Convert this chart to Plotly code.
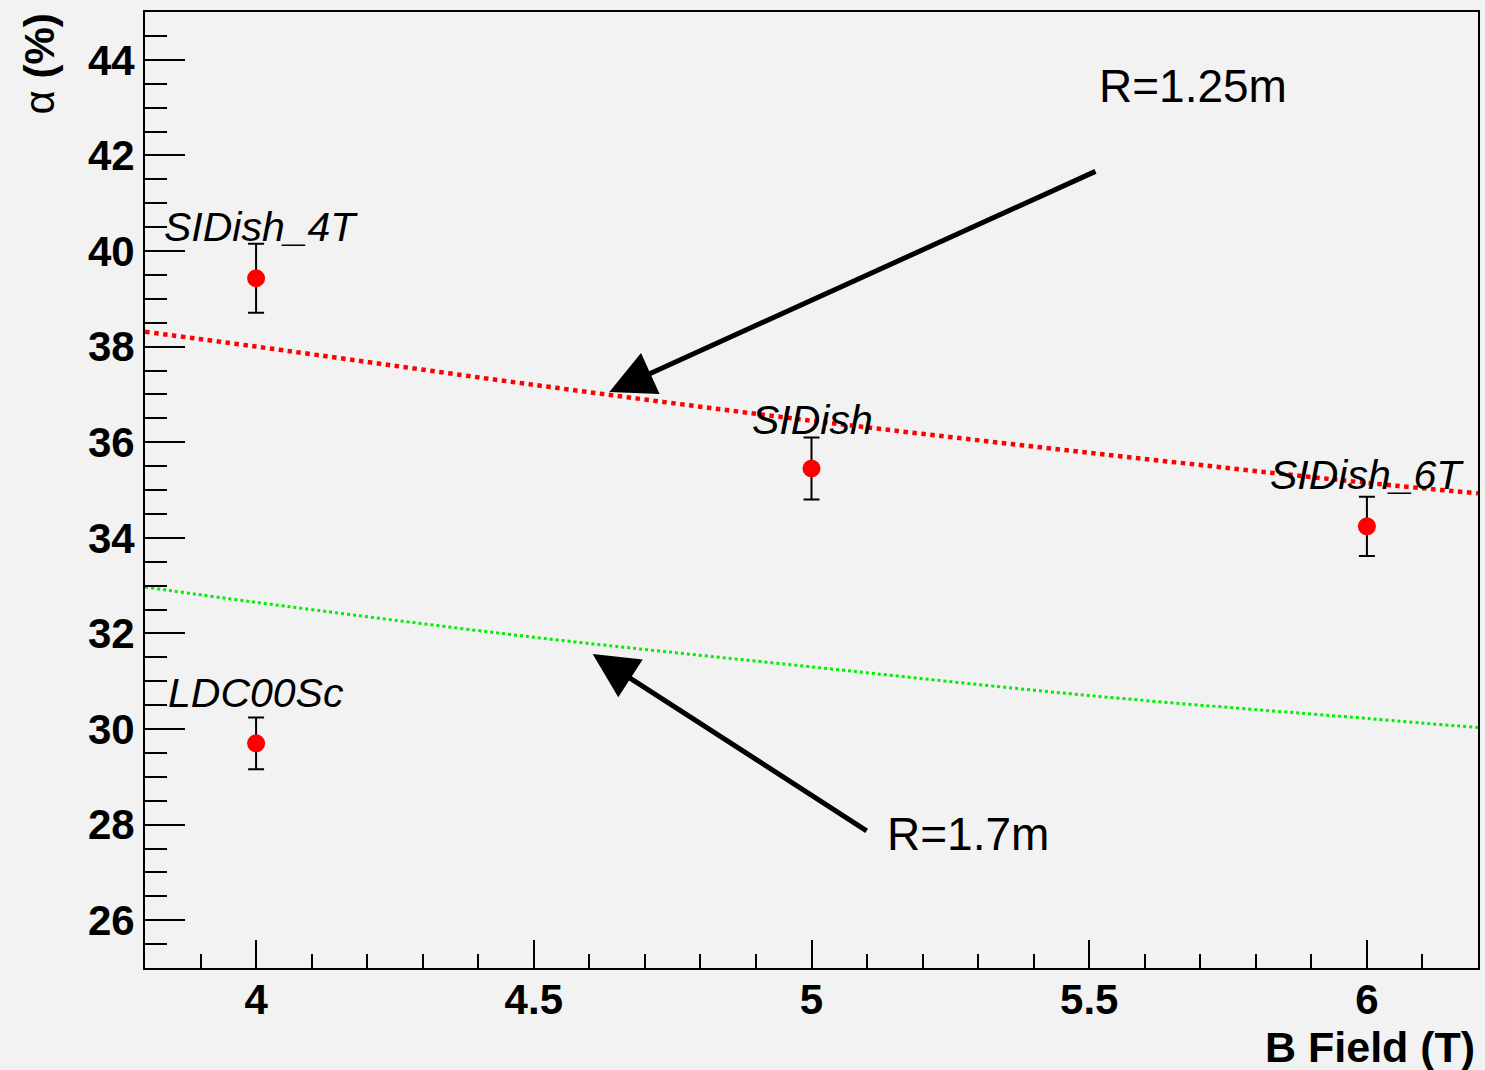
import plotly.graph_objects as go

# Data points
pt_x = [4, 4, 5, 6]
pt_y = [39.43, 29.7, 35.45, 34.24]
pt_err = [0.72, 0.54, 0.65, 0.62]
pt_labels = ["SIDish_4T", "LDC00Sc", "SIDish", "SIDish_6T"]
lab_x = [3.831, 3.837, 4.890, 5.822]
lab_y = [40.5, 30.76, 36.46, 35.31]

# Curves
curve_x = [3.8, 4.0, 4.5, 5.0, 5.5, 6.0, 6.2]
red_y = [38.31, 38.0, 37.2, 36.45, 35.78, 35.15, 34.93]
green_y = [32.97, 32.65, 31.92, 31.30, 30.70, 30.22, 30.03]

# Arrow annotations: (tip_x, tip_y, tail_x, tail_y)
arrow_r125 = [4.636, 37.05, 5.514, 41.68]
arrow_r17 = [4.606, 31.57, 5.102, 27.85]
txt_r125 = ["R=1.25m", 5.514, 43.46]
txt_r17 = ["R=1.7m", 5.133, 27.81]

FONT = "Liberation Sans, Arial, Helvetica, sans-serif"
BG = "#f2f2f2"

fig = go.Figure()
fig.add_trace(go.Scatter(x=curve_x, y=red_y, mode="lines",
                         line=dict(color="#ff0000", width=4.5, dash="dot", shape="spline"),
                         showlegend=False, hoverinfo="skip"))
fig.add_trace(go.Scatter(x=curve_x, y=green_y, mode="lines",
                         line=dict(color="#00ee00", width=3, dash="dot", shape="spline"),
                         showlegend=False, hoverinfo="skip"))
fig.add_trace(go.Scatter(x=pt_x, y=pt_y, mode="markers",
                         marker=dict(color="#ff0000", size=18, symbol="circle"),
                         error_y=dict(type="data", array=pt_err, color="black",
                                      thickness=2, width=8),
                         showlegend=False))

for t, x, y in zip(pt_labels, lab_x, lab_y):
    fig.add_annotation(x=x, y=y, xref="x", yref="y", text="<i>" + t + "</i>",
                       showarrow=False, xanchor="left", yanchor="middle",
                       font=dict(family=FONT, size=41, color="black"))

for a in (arrow_r125, arrow_r17):
    fig.add_annotation(x=a[0], y=a[1], ax=a[2], ay=a[3], xref="x", yref="y",
                       axref="x", ayref="y", text="", showarrow=True,
                       arrowhead=2, arrowsize=1.8, arrowwidth=5, arrowcolor="black")

for t in (txt_r125, txt_r17):
    fig.add_annotation(x=t[1], y=t[2], xref="x", yref="y", text=t[0],
                       showarrow=False, xanchor="left", yanchor="middle",
                       font=dict(family=FONT, size=46, color="black"))

# Axis titles
fig.add_annotation(x=0.999, y=-0.083, xref="paper", yref="paper",
                   text="<b>B Field (T)</b>", showarrow=False,
                   xanchor="right", yanchor="middle",
                   font=dict(family=FONT, size=43, color="black"))
fig.add_annotation(x=-0.0795, y=1.0, xref="paper", yref="paper",
                   text="α <b>(%)</b>", showarrow=False, textangle=-90,
                   xanchor="center", yanchor="top",
                   font=dict(family=FONT, size=42, color="black"))

fig.update_xaxes(range=[3.8, 6.2], tickmode="linear", tick0=4, dtick=0.5,
                 ticks="inside", ticklen=28, tickwidth=2, tickcolor="black",
                 minor=dict(dtick=0.1, tick0=4, ticks="inside", ticklen=14,
                            tickwidth=2, tickcolor="black"),
                 showline=True, linecolor="black", linewidth=2, mirror=True,
                 showgrid=False, zeroline=False, ticklabelstandoff=-6,
                 tickfont=dict(family=FONT, size=42, color="black", weight="bold"))
fig.update_yaxes(range=[25, 45], tickmode="linear", tick0=26, dtick=2,
                 ticks="inside", ticklen=40, tickwidth=2, tickcolor="black",
                 minor=dict(dtick=0.5, tick0=26, ticks="inside", ticklen=22,
                            tickwidth=2, tickcolor="black"),
                 showline=True, linecolor="black", linewidth=2, mirror=True,
                 showgrid=False, zeroline=False,
                 tickfont=dict(family=FONT, size=42, color="black", weight="bold"))

fig.update_layout(width=1485, height=1070, paper_bgcolor=BG, plot_bgcolor=BG,
                  margin=dict(l=145, r=5, t=12, b=102), showlegend=False)

fig.write_html("out.html")
